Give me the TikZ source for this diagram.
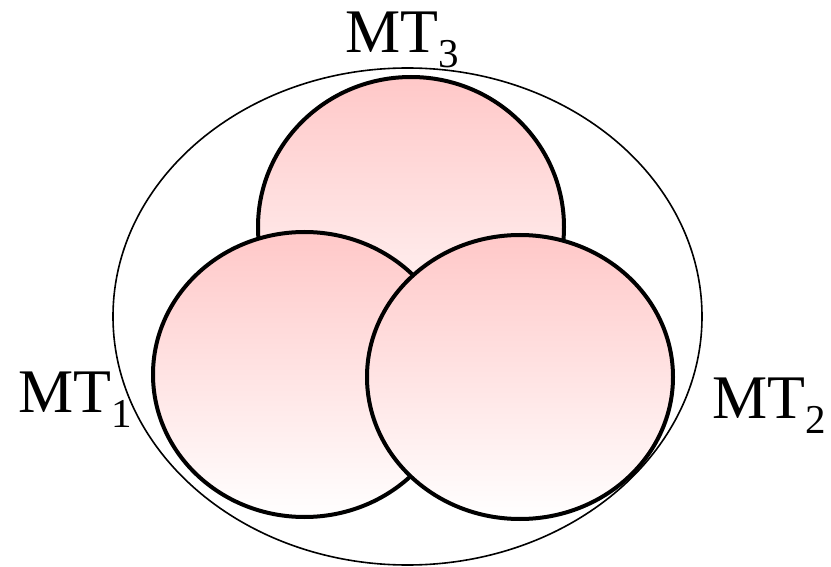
\documentclass[tikz,border=0pt]{standalone}
\usepackage{fontspec}
\setmainfont{Liberation Serif}
\usepackage{tikz}
\usetikzlibrary{shapes.geometric}
\definecolor{SetPink}{HTML}{FFC8C8}
\newcommand{\mtname}[1]{MT\raisebox{-15pt}{\fontsize{41}{41}\selectfont #1}}

\begin{document}
\begin{tikzpicture}[x=1pt, y=-1pt,
    setdisk/.style={ellipse, draw=black, line width=4pt, inner sep=0pt,
      top color=SetPink, bottom color=white},
    setlabel/.style={anchor=base west, inner sep=0pt, font=\fontsize{62}{62}\selectfont}]
  \useasboundingbox (0,0) rectangle (831,567);
  % the enclosing set
  \node[ellipse, draw=black, line width=1.6pt, inner sep=0pt,
    minimum width=589pt, minimum height=497pt] (whole) at (407.5,316.5) {};
  % the three sets, back to front
  \node[setdisk, minimum width=306pt, minimum height=300pt] (set3) at (411,227) {};
  \node[setdisk, minimum width=303pt, minimum height=285pt] (set1) at (304.5,374.5) {};
  \node[setdisk, minimum width=306pt, minimum height=284pt] (set2) at (520,377) {};
  % names
  \node[setlabel] (lab3) at (345,53) {\mtname{3}};
  \node[setlabel] (lab1) at (18,412) {\mtname{1}};
  \node[setlabel] (lab2) at (712,418) {\mtname{2}};
\end{tikzpicture}
\end{document}
